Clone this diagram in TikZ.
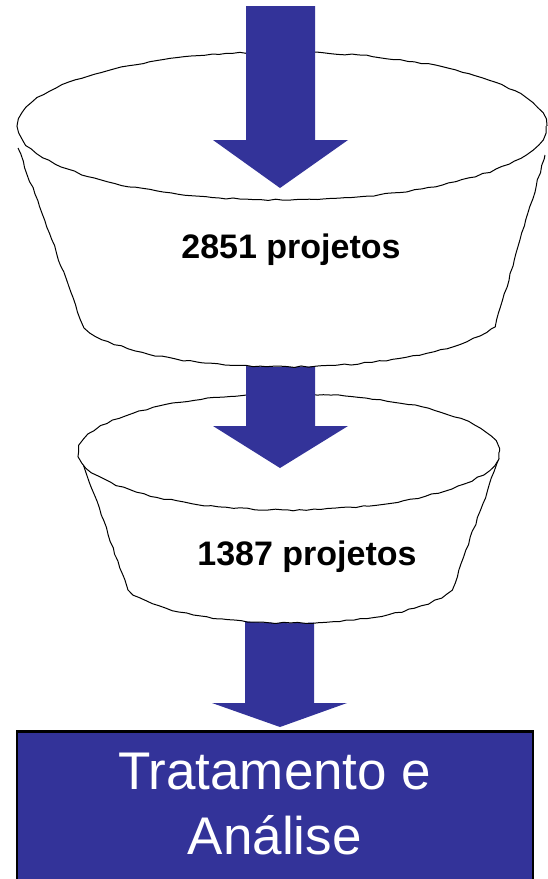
\documentclass[tikz,border=0pt]{standalone}
\usepackage{fontspec}
\setmainfont{Liberation Sans}
\usepackage{xcolor}
\usetikzlibrary{positioning, decorations.pathmorphing}
\definecolor{funnelblue}{HTML}{333399}

\begin{document}
\begin{tikzpicture}[
        x=1pt, y=-1pt,
        rim/.style={draw=black, line width=1pt, decorate, decoration={random steps, segment length=7pt, amplitude=0.8pt}},
        flow/.style={fill=funnelblue, draw=none},
        count/.style={font=\fontsize{34}{40}\selectfont\bfseries, anchor=base},
        result/.style={fill=funnelblue, draw=black, line width=2.5pt, anchor=north west, minimum width=516pt, minimum height=170pt}
    ]
    \pgfmathsetseed{11}
    \useasboundingbox (0,0) rectangle (547,879);

    % Result box
    \node[result] (box) at (15.5,730) {};
    \node[below=23pt of box.north, anchor=north, align=center, text=white, inner sep=0pt,
        font=\fontsize{53}{65}\selectfont] (label) {Tratamento e\\An\'alise};

    % Arrow into the box
    \fill[flow] (245,615) -- (245,703) -- (212,703) -- (280,727) -- (347,703) -- (314,703) -- (314,615) -- cycle;

    % Second filter
    \fill[white] (80,455) -- (128,590) .. controls (180,634) and (400,634) .. (452,590) -- (499,458) -- cycle;
    \draw[rim] (80,455) -- (128,590) .. controls (180,634) and (400,634) .. (452,590) -- (499,458);
    \draw[rim, fill=white] (289,452) ellipse [x radius=210, y radius=58];
    \node[count] (second) at (307,565) {1387 projetos};

    % Arrow into the second filter
    \fill[flow] (246,350) -- (246,426) -- (213,426) -- (280,468) -- (348,426) -- (315,426) -- (315,350) -- cycle;

    % First filter
    \fill[white] (18,148) -- (84,328) .. controls (150,380) and (420,380) .. (495,327) -- (545,155) -- cycle;
    \draw[rim] (18,148) -- (84,328) .. controls (150,380) and (420,380) .. (495,327) -- (545,155);
    \draw[rim, fill=white] (282,126) ellipse [x radius=264, y radius=74];
    \node[count] (first) at (291,258) {2851 projetos};

    % Arrow into the first filter
    \fill[flow] (246,6) -- (246,140) -- (213,140) -- (280,188) -- (348,140) -- (315,140) -- (315,6) -- cycle;
\end{tikzpicture}
\end{document}
